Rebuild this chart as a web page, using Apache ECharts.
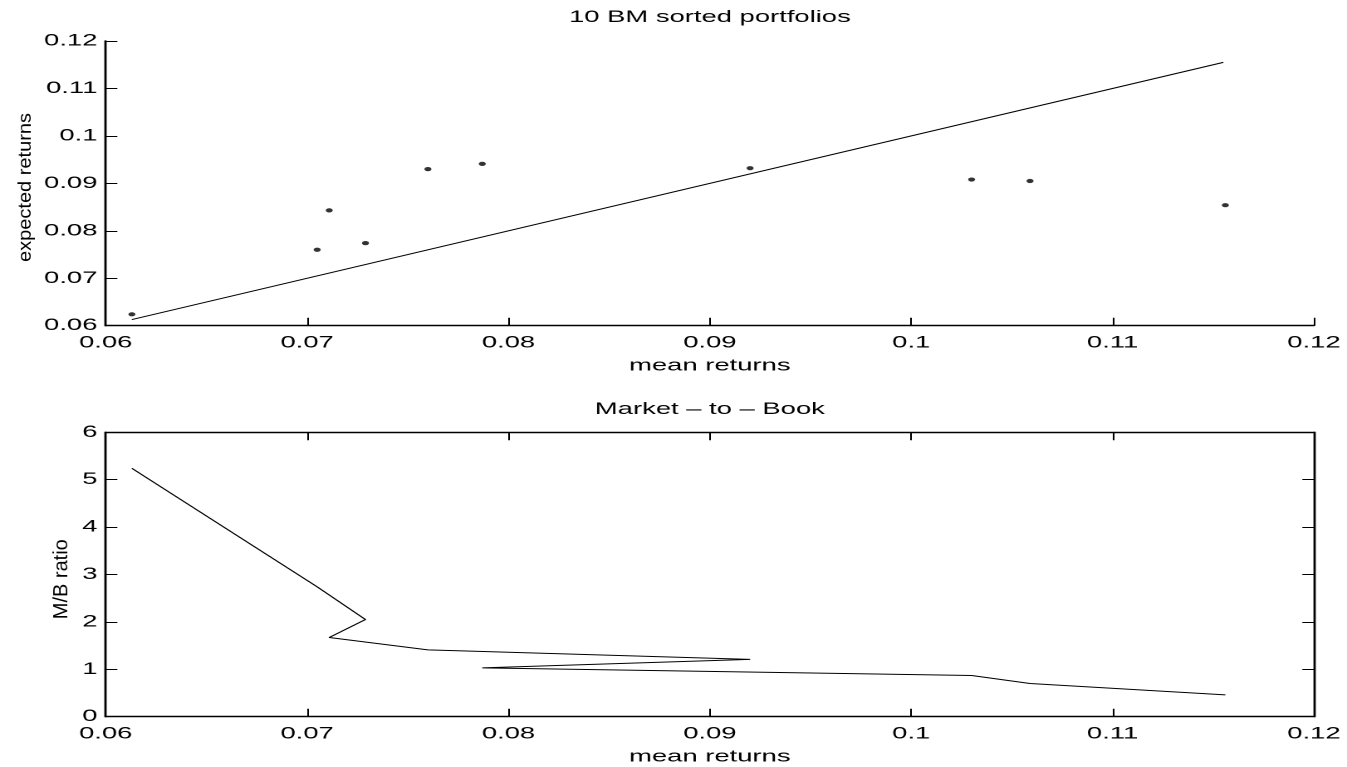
<!DOCTYPE html>
<html>
<head>
<meta charset="utf-8">
<script src="https://cdn.jsdelivr.net/npm/echarts@6/dist/echarts.min.js"></script>
<style>
html,body{margin:0;padding:0;background:#fff;overflow:hidden}
#wrap{width:1347px;height:767px;overflow:hidden;position:relative}
#chart{width:811px;height:767px;transform:scaleX(1.66091);transform-origin:0 0}
</style>
</head>
<body>
<div id="wrap"><div id="chart"></div></div>
<script>
// ---- data (portfolios in M/B order) ----
const meanReturns     = [0.0613, 0.0705, 0.0729, 0.0711, 0.0760, 0.0920, 0.0787, 0.1030, 0.1059, 0.1156];
const expectedReturns = [0.0624, 0.0760, 0.0774, 0.0843, 0.0930, 0.0932, 0.0941, 0.0908, 0.0905, 0.0854];
const mbRatio         = [5.24, 2.74, 2.05, 1.67, 1.41, 1.21, 1.03, 0.87, 0.70, 0.46];
// 45-degree reference line end points
const refLineX = [0.0613, 0.1155];
const refLineY = [0.0613, 0.1155];
// axis ticks
const xTicks  = [0.06, 0.07, 0.08, 0.09, 0.1, 0.11, 0.12];
const y1Ticks = [0.06, 0.07, 0.08, 0.09, 0.1, 0.11, 0.12];
const y2Ticks = [0, 1, 2, 3, 4, 5, 6];
// texts
const title1 = '10 BM sorted portfolios';
const title2 = 'Market \u2013 to \u2013 Book';
const xName = 'mean returns';
const y1Name = 'expected returns';
const y2Name = 'M/B ratio';

const S = 1347 / 811;            // horizontal stretch of the page
const FONT = '"Liberation Sans", Arial, Helvetica, sans-serif';
const FS = 16.5;

const chart = echarts.init(document.getElementById('chart'), null, {renderer: 'canvas', devicePixelRatio: 2});

function step(t){ return Math.round((t[1]-t[0])*1e6)/1e6; }

const lineStyle = {color: '#000', width: 1.4};
function xAxisCfg(grid, opts){
  return Object.assign({
    type: 'value', gridIndex: grid, position: 'bottom',
    min: xTicks[0], max: xTicks[xTicks.length-1], interval: step(xTicks),
    axisLine: {show: true, onZero: false, lineStyle: lineStyle},
    axisTick: {show: true, inside: true, length: 8, lineStyle: {color: '#000', width: 1}},
    axisLabel: {show: true, margin: 9, color: '#000', fontSize: FS, fontFamily: FONT},
    splitLine: {show: false},
    name: xName, nameLocation: 'middle', nameGap: 32,
    nameTextStyle: {color: '#000', fontSize: FS, fontFamily: FONT}
  }, opts || {});
}
function yAxisCfg(grid, ticks, opts){
  return Object.assign({
    type: 'value', gridIndex: grid, position: 'left',
    min: ticks[0], max: ticks[ticks.length-1], interval: step(ticks),
    axisLine: {show: true, onZero: false, lineStyle: lineStyle},
    axisTick: {show: true, inside: true, length: 7, lineStyle: {color: '#000', width: 1}},
    axisLabel: {show: true, margin: 5, color: '#000', fontSize: FS, fontFamily: FONT},
    splitLine: {show: false}
  }, opts || {});
}

const gridLeft = 63.64, gridRight = 19.9;

const option = {
  backgroundColor: '#fff',
  animation: false,
  title: [
    {text: title1, left: 427.4, top: 9, padding: 0, textAlign: 'center',
     textStyle: {color: '#000', fontSize: FS, fontWeight: 'normal', fontFamily: FONT}},
    {text: title2, left: 427.4, top: 401, padding: 0, textAlign: 'center',
     textStyle: {color: '#000', fontSize: FS, fontWeight: 'normal', fontFamily: FONT}}
  ],
  grid: [
    {left: gridLeft, right: gridRight, top: 41, height: 284.7, containLabel: false},
    {left: gridLeft, right: gridRight, top: 432.3, height: 284.4, containLabel: false}
  ],
  xAxis: [
    xAxisCfg(0),
    xAxisCfg(1),
    xAxisCfg(1, {position: 'top', name: '', axisLabel: {show: false}})
  ],
  yAxis: [
    yAxisCfg(0, y1Ticks),
    yAxisCfg(1, y2Ticks),
    yAxisCfg(1, y2Ticks, {position: 'right', axisLabel: {show: false}})
  ],
  graphic: [
    {type: 'text', x: 25.7 / S, y: 187.5, rotation: Math.PI / 2, scaleY: 0.55,
     style: {text: y1Name, font: '20px ' + FONT, fill: '#000', align: 'center', verticalAlign: 'middle'}},
    {type: 'text', x: 62 / S, y: 579.2, rotation: Math.PI / 2, scaleY: 0.58,
     style: {text: y2Name, font: '20px ' + FONT, fill: '#000', align: 'center', verticalAlign: 'middle'}}
  ],
  series: [
    {type: 'scatter', xAxisIndex: 0, yAxisIndex: 0, symbol: 'circle', symbolSize: 4.2,
     itemStyle: {color: '#000'},
     data: meanReturns.map((x, i) => [x, expectedReturns[i]])},
    {type: 'line', xAxisIndex: 0, yAxisIndex: 0, showSymbol: false, symbol: 'none',
     lineStyle: {color: '#000', width: 1},
     data: refLineX.map((x, i) => [x, refLineY[i]])},
    {type: 'line', xAxisIndex: 1, yAxisIndex: 1, showSymbol: false, symbol: 'none',
     lineStyle: {color: '#000', width: 1},
     data: meanReturns.map((x, i) => [x, mbRatio[i]])}
  ]
};
chart.setOption(option);
</script>
</body>
</html>
